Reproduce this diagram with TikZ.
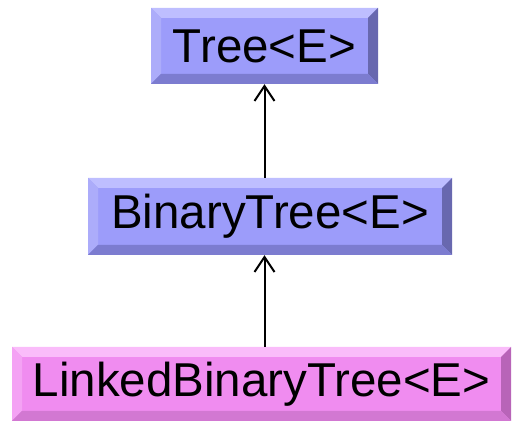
\documentclass[tikz,border=0pt]{standalone}
\usepackage{fontspec}
\setmainfont{Liberation Sans}
\usetikzlibrary{arrows.meta}
\definecolor{bface}{RGB}{156,156,250}
\definecolor{btop}{RGB}{190,190,255}
\definecolor{bleft}{RGB}{172,172,250}
\definecolor{bright}{RGB}{104,104,175}
\definecolor{bbot}{RGB}{124,124,208}
\definecolor{pface}{RGB}{240,140,240}
\definecolor{ptop}{RGB}{250,188,250}
\definecolor{pleft}{RGB}{244,162,244}
\definecolor{pright}{RGB}{184,100,184}
\definecolor{pbot}{RGB}{210,120,210}
\tikzset{
  bevelbox/.style n args={5}{rectangle, inner sep=0pt, fill=#1,
    font=\fontsize{47.5}{54}\selectfont, text=black,
    path picture={
      \def\b{10pt}
      \coordinate (NW) at (path picture bounding box.north west);
      \coordinate (NE) at (path picture bounding box.north east);
      \coordinate (SW) at (path picture bounding box.south west);
      \coordinate (SE) at (path picture bounding box.south east);
      \fill[#2] (NW) -- (NE) -- ([shift={(-\b,-\b)}]NE) -- ([shift={(\b,-\b)}]NW) -- cycle;
      \fill[#3] (NW) -- (SW) -- ([shift={(\b,\b)}]SW) -- ([shift={(\b,-\b)}]NW) -- cycle;
      \fill[#4] (NE) -- (SE) -- ([shift={(-\b,\b)}]SE) -- ([shift={(-\b,-\b)}]NE) -- cycle;
      \fill[#5] (SW) -- (SE) -- ([shift={(-\b,\b)}]SE) -- ([shift={(\b,\b)}]SW) -- cycle;
    }},
  bluebox/.style={bevelbox={bface}{btop}{bleft}{bright}{bbot}},
  pinkbox/.style={bevelbox={pface}{ptop}{pleft}{pright}{pbot}},
  arr/.style={-{Straight Barb[length=15pt,width=20pt,line width=2pt]}, line width=2pt, black}
}
\begin{document}
\begin{tikzpicture}[x=1pt,y=1pt]
\useasboundingbox (0,0) rectangle (513,422);
\node[bluebox, minimum width=227pt, minimum height=76pt] (tree) at (264.5,376) {Tree<E>};
\node[bluebox, minimum width=364pt, minimum height=77pt] (bin) at (270,205.5) {BinaryTree<E>};
\node[pinkbox, minimum width=499pt, minimum height=74pt] (lin) at (261.5,38) {LinkedBinaryTree<E>};
\draw[arr] (bin.north -| tree.south) -- (tree.south);
\draw[arr] (lin.north -| tree.south) -- (bin.south -| tree.south);
\end{tikzpicture}
\end{document}
